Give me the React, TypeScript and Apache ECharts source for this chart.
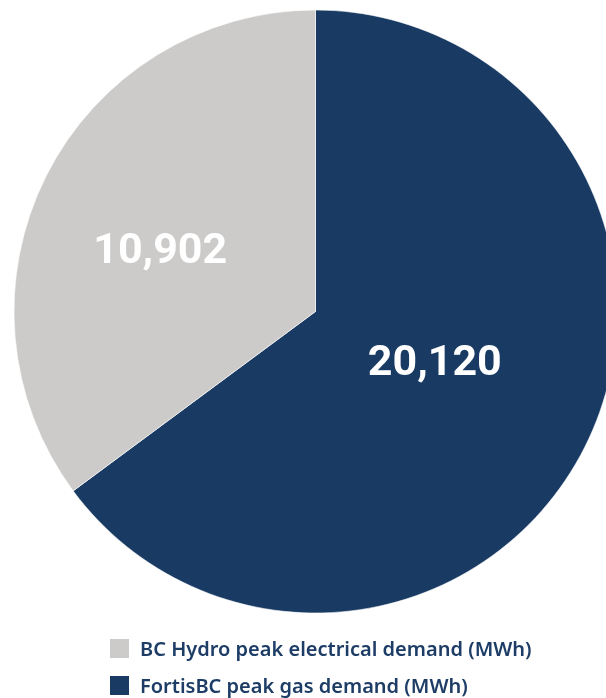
import React, { useEffect, useRef } from "react";
import * as echarts from "echarts";

const categories = [
  "FortisBC peak gas demand (MWh)",
  "BC Hydro peak electrical demand (MWh)",
];
const values = [20120, 10902];
const colors = ["#183a63", "#cdcbc9"];
const legendOrder = [
  "BC Hydro peak electrical demand (MWh)",
  "FortisBC peak gas demand (MWh)",
];
const labelShift = [
  [-18, -21],
  [-18, 6],
];

export default function App() {
  const ref = useRef<HTMLDivElement>(null);
  useEffect(() => {
    if (!ref.current) return;
    const chart = echarts.init(ref.current, undefined, { renderer: "svg" });
    const legendBase = {
      orient: "vertical",
      left: 108,
      padding: 0,
      itemWidth: 21,
      itemHeight: 21,
      icon: "rect",
      textStyle: {
        color: "#1d3d66",
        fontSize: 20,
        lineHeight: 22,
        fontFamily: "Noto Sans",
        fontWeight: 600,
        padding: [0, 0, 0, 5],
      },
    };
    chart.setOption({
      animation: false,
      legend: legendOrder.map((name, i) => ({
        ...legendBase,
        data: [name],
        top: i === 0 ? 637 : 674,
      })),
      series: [
        {
          type: "pie",
          center: [315.5, 311.5],
          radius: [0, 301.5],
          startAngle: 90,
          clockwise: true,
          data: categories.map((name, i) => ({
            name,
            value: values[i],
            itemStyle: { color: colors[i] },
          })),
          itemStyle: { borderColor: "#ffffff", borderWidth: 0.6 },
          label: {
            show: true,
            position: "inside",
            color: "#ffffff",
            fontSize: 43,
            fontWeight: 700,
            fontFamily: "Roboto",
            formatter: (p: any) => Number(p.value).toLocaleString("en-US"),
          },
          labelLayout: (p: any) => ({
            dx: labelShift[p.dataIndex][0],
            dy: labelShift[p.dataIndex][1],
          }),
          labelLine: { show: false },
          emphasis: { disabled: true },
        },
      ],
    });
    return () => chart.dispose();
  }, []);
  return (
    <div
      ref={ref}
      style={{ position: "fixed", left: 0, top: 0, width: 606, height: 698 }}
    />
  );
}
